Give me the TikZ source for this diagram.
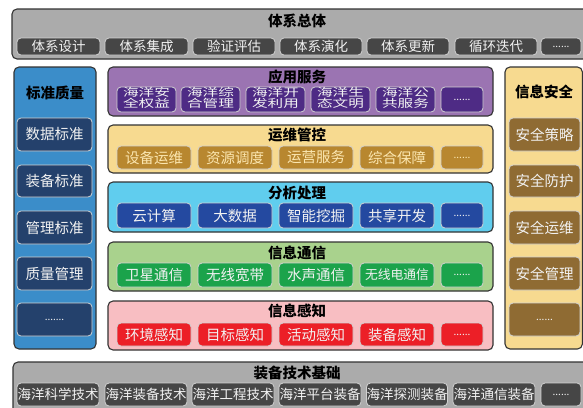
\documentclass[tikz,border=0pt]{standalone}
\usepackage{fontspec}
\usepackage{graphicx}
\setmainfont{Noto Sans CJK SC}
\definecolor{grayout}{HTML}{ABABAB}
\definecolor{grayin}{HTML}{464646}
\definecolor{blueout}{HTML}{3B8DC9}
\definecolor{bluein}{HTML}{24416C}
\definecolor{purout}{HTML}{9B74B2}
\definecolor{purin}{HTML}{4E2B85}
\definecolor{yelout}{HTML}{F7DA90}
\definecolor{yelin}{HTML}{B8872F}
\definecolor{cyaout}{HTML}{60CDEE}
\definecolor{cyain}{HTML}{2449A0}
\definecolor{greout}{HTML}{A9D28D}
\definecolor{grein}{HTML}{1BA34B}
\definecolor{pinout}{HTML}{F8BEC2}
\definecolor{pinin}{HTML}{EC1F27}
\definecolor{brnin}{HTML}{8F6B33}
\definecolor{cream}{HTML}{FBE6B0}
\newcommand\bx[7]{\node[#6, minimum width={(#4-#2)*1pt}, minimum height={(#5-#3)*1pt}] (#1) at ({(#2+#4)/2},{(#3+#5)/2}) {#7};}
\newcommand\two[2]{\scalebox{1.42}[1]{\begin{tabular}{@{}c@{}}#1\\[-2pt]#2\end{tabular}}}
\tikzset{
  outer/.style={draw=black!80, line width=1.1pt, rounded corners=5pt, inner sep=0pt},
  inner/.style={draw=white!82!black, line width=0.8pt, rounded corners=4pt, inner sep=0pt, text=white!95!black, font=\fontsize{14.5}{15}\selectfont},
  small/.style={inner, font=\fontsize{13.5}{14}\selectfont},
  dots/.style={inner, font=\fontsize{10}{10}\selectfont},
  twol/.style={inner, font=\fontsize{11}{12.5}\selectfont},
  ttl/.style={inner sep=0pt, font=\fontsize{14.5}{15}\selectfont\bfseries}
}
\begin{document}
\begin{tikzpicture}[x=1pt,y=-1pt]
\useasboundingbox (0,0) rectangle (583,407);
\clip (0,0) rectangle (583,407);
% top
\bx{top}{12}{9}{600}{59}{outer, fill=grayout}{}
\node[ttl] (toptitle) at (297,21) {体系总体};
\bx{t1}{17}{38}{100}{55}{small, fill=grayin}{体系设计}
\bx{t2}{105}{38}{188}{55}{small, fill=grayin}{体系集成}
\bx{t3}{193}{38}{275}{55}{small, fill=grayin}{验证评估}
\bx{t4}{280}{38}{362}{55}{small, fill=grayin}{体系演化}
\bx{t5}{367}{38}{449}{55}{small, fill=grayin}{体系更新}
\bx{t6}{455}{38}{537}{55}{small, fill=grayin}{循环迭代}
\bx{t7}{541}{38}{581}{55}{dots, fill=grayin}{......}
% left
\bx{left}{14}{67}{96}{349}{outer, fill=blueout}{}
\node[ttl] (lefttitle) at (55,93) {标准质量};
\bx{l1}{17}{118}{92}{151}{inner, fill=bluein}{数据标准}
\bx{l2}{17}{165}{92}{197}{inner, fill=bluein}{装备标准}
\bx{l3}{17}{211}{92}{244}{inner, fill=bluein}{管理标准}
\bx{l4}{17}{257}{92}{290}{inner, fill=bluein}{质量管理}
\bx{l5}{17}{303}{92}{336}{dots, fill=bluein}{.......}
% right
\bx{right}{505}{67}{582.4}{349}{outer, fill=yelout}{}
\node[ttl] (righttitle) at (544,92) {信息安全};
\bx{r1}{509}{118}{580}{151}{inner, fill=brnin}{安全策略}
\bx{r2}{509}{165}{580}{197}{inner, fill=brnin}{安全防护}
\bx{r3}{509}{211}{580}{244}{inner, fill=brnin}{安全运维}
\bx{r4}{509}{257}{580}{290}{inner, fill=brnin}{安全管理}
\bx{r5}{509}{303}{580}{336}{dots, fill=brnin}{......}
% purple
\bx{pur}{108}{67}{493}{116}{outer, fill=purout}{}
\node[ttl] (purtitle) at (297,77) {应用服务};
\bx{p1}{117}{87}{176}{112}{twol, fill=purin}{\two{海洋安}{全权益}}
\bx{p2}{181}{87}{240}{112}{twol, fill=purin}{\two{海洋综}{合管理}}
\bx{p3}{246}{87}{305}{112}{twol, fill=purin}{\two{海洋开}{发利用}}
\bx{p4}{311}{87}{370}{112}{twol, fill=purin}{\two{海洋生}{态文明}}
\bx{p5}{376}{87}{435}{112}{twol, fill=purin}{\two{海洋公}{共服务}}
\bx{p6}{441}{87}{483}{112}{dots, fill=purin}{......}
% yellow
\bx{yel}{108}{125}{493}{173}{outer, fill=yelout}{}
\node[ttl] (yeltitle) at (297,135) {运维管控};
\bx{y1}{117}{146}{191}{169}{inner, fill=yelin, text=cream}{设备运维}
\bx{y2}{198}{146}{272}{169}{inner, fill=yelin, text=cream}{资源调度}
\bx{y3}{279}{146}{353}{169}{inner, fill=yelin, text=cream}{运营服务}
\bx{y4}{360}{146}{434}{169}{inner, fill=yelin, text=cream}{综合保障}
\bx{y5}{441}{146}{483}{169}{dots, fill=yelin, text=cream}{......}
% cyan
\bx{cya}{108}{182}{493}{232}{outer, fill=cyaout}{}
\node[ttl] (cyatitle) at (297,193) {分析处理};
\bx{c1}{117}{203}{191}{228}{inner, fill=cyain}{云计算}
\bx{c2}{198}{203}{272}{228}{inner, fill=cyain}{大数据}
\bx{c3}{279}{203}{353}{228}{inner, fill=cyain}{智能挖掘}
\bx{c4}{360}{203}{434}{228}{inner, fill=cyain}{共享开发}
\bx{c5}{441}{203}{483}{228}{dots, fill=cyain}{......}
% green
\bx{gre}{108}{242}{493}{291}{outer, fill=greout}{}
\node[ttl] (gretitle) at (297,253) {信息通信};
\bx{g1}{117}{263}{191}{287}{inner, fill=grein}{卫星通信}
\bx{g2}{198}{263}{272}{287}{inner, fill=grein}{无线宽带}
\bx{g3}{279}{263}{353}{287}{inner, fill=grein}{水声通信}
\bx{g4}{360}{263}{434}{287}{inner, fill=grein, font=\fontsize{12.8}{13}\selectfont}{无线电通信}
\bx{g5}{441}{263}{483}{287}{dots, fill=grein}{......}
% pink
\bx{pin}{108}{301}{493}{350}{outer, fill=pinout}{}
\node[ttl] (pintitle) at (297,311) {信息感知};
\bx{k1}{117}{323}{191}{346}{inner, fill=pinin}{环境感知}
\bx{k2}{198}{323}{272}{346}{inner, fill=pinin}{目标感知}
\bx{k3}{279}{323}{353}{346}{inner, fill=pinin}{活动感知}
\bx{k4}{360}{323}{434}{346}{inner, fill=pinin}{装备感知}
\bx{k5}{441}{323}{483}{346}{dots, fill=pinin}{......}
% bottom
\bx{bot}{13}{362}{600}{440}{outer, fill=grayout}{}
\node[ttl] (bottitle) at (297,373) {装备技术基础};
\bx{b1}{17}{383}{99}{406}{small, fill=grayin}{海洋科学技术}
\bx{b2}{105}{383}{187}{406}{small, fill=grayin}{海洋装备技术}
\bx{b3}{192}{383}{274}{406}{small, fill=grayin}{海洋工程技术}
\bx{b4}{279}{383}{361}{406}{small, fill=grayin}{海洋平台装备}
\bx{b5}{367}{383}{447}{406}{small, fill=grayin}{海洋探测装备}
\bx{b6}{453}{383}{535}{406}{small, fill=grayin}{海洋通信装备}
\bx{b7}{541}{383}{581}{406}{dots, fill=grayin}{......}
\end{tikzpicture}
\end{document}
